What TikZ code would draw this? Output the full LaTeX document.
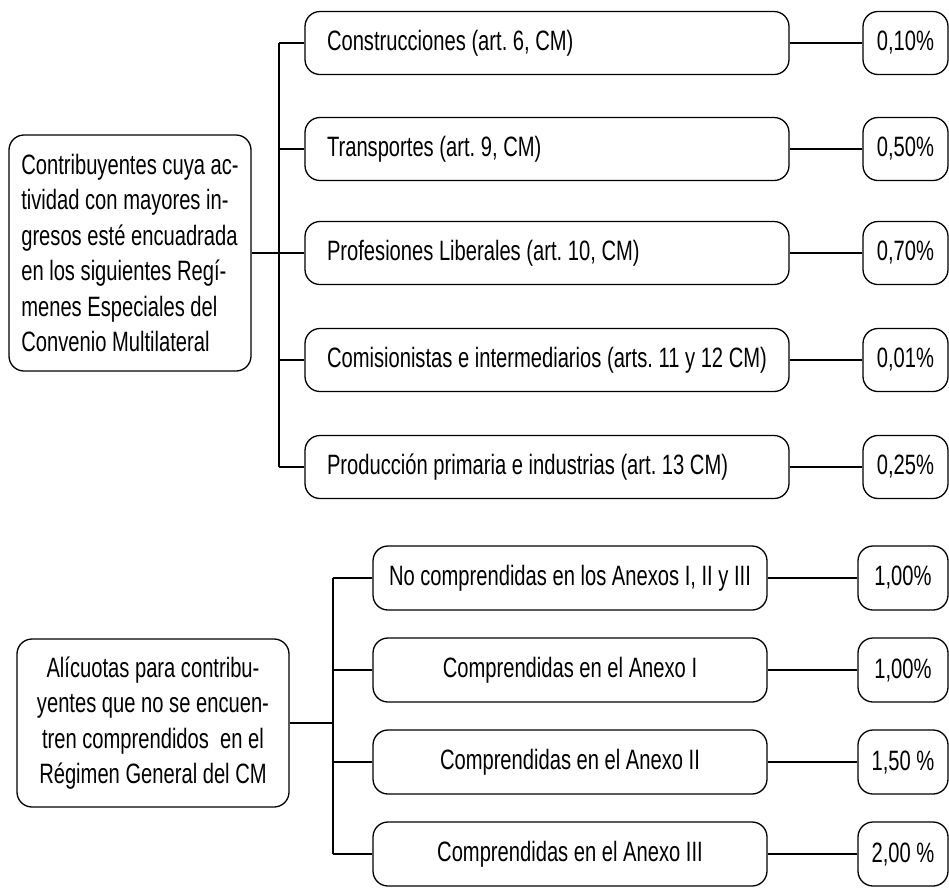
\documentclass[tikz,border=0pt]{standalone}
\usepackage{fontspec}
\setmainfont[FakeStretch=0.72]{Liberation Sans}
\frenchspacing
\tikzset{
	caja/.style={draw, line width=1.3pt, rounded corners=15pt, inner ysep=0pt,
		font=\fontsize{28}{35.5}\selectfont,
		execute at begin node={\spaceskip=0pt\xspaceskip=0pt}},
	rama/.style={caja, minimum height=63pt, inner xsep=22pt},
	tasa/.style={caja, minimum height=63pt, inner xsep=0pt, align=center},
	linea/.style={line width=1.3pt}
}
\begin{document}
\begin{tikzpicture}[x=1pt,y=-1pt]
	\useasboundingbox (0,0) rectangle (949,887);
	%regimenes especiales del CM
	\node[caja, align=left, inner xsep=9pt, minimum width=242pt, minimum height=236pt] (esp) at (130,253)
		{Contribuyentes cuya ac-\\tividad con mayores in-\\gresos esté encuadrada\\en los siguientes Regí-\\menes Especiales del\\Convenio Multilateral};
	\coordinate (tronco1) at (279,253);
	\foreach \n/\y/\txt/\pct in {1/43/{Construcciones (art. 6, CM)}/{0,10\%},
		2/149/{Transportes (art. 9, CM)}/{0,50\%},
		3/253/{Profesiones Liberales (art. 10, CM)}/{0,70\%},
		4/360/{Comisionistas e intermediarios (arts. 11 y 12 CM)}/{0,01\%},
		5/467/{Producción primaria e industrias (art. 13 CM)}/{0,25\%}}
	{
		\node[rama, align=left, text width=440pt] (c\n) at (547,\y) {\txt};
		\node[tasa, minimum width=85pt] (p\n) at (905.5,\y) {\pct};
		\draw[linea] (c\n) -- (p\n);
		\draw[linea] (c\n.west) -- (c\n.west -| tronco1);
	}
	\draw[linea] (c1.west -| tronco1) -- (c5.west -| tronco1);
	\draw[linea] (esp.east) -- (tronco1);
	
	%regimen general
	\node[caja, align=center, inner xsep=9pt, minimum width=272pt, minimum height=168pt] (gral) at (153,723)
		{Alícuotas para contribu-\\yentes que no se encuen-\\tren comprendidos\ \ en el\\Régimen General del CM};
	\coordinate (tronco2) at (333,723);
	\foreach \n/\y/\txt/\pct in {1/578/{No comprendidas en los Anexos I, II y III}/{1,00\%},
		2/670/{Comprendidas en el Anexo I}/{1,00\%},
		3/762/{Comprendidas en el Anexo II}/{1,50 \%},
		4/854/{Comprendidas en el Anexo III}/{2,00 \%}}
	{
		\node[rama, align=center, inner xsep=9pt, minimum width=394pt, minimum height=64pt] (a\n) at (570,\y) {\txt};
		\node[tasa, minimum width=90pt, minimum height=64pt] (q\n) at (903,\y) {\pct};
		\draw[linea] (a\n) -- (q\n);
		\draw[linea] (a\n.west) -- (a\n.west -| tronco2);
	}
	\draw[linea] (a1.west -| tronco2) -- (a4.west -| tronco2);
	\draw[linea] (gral.east) -- (tronco2);
	
\end{tikzpicture}
\end{document}
